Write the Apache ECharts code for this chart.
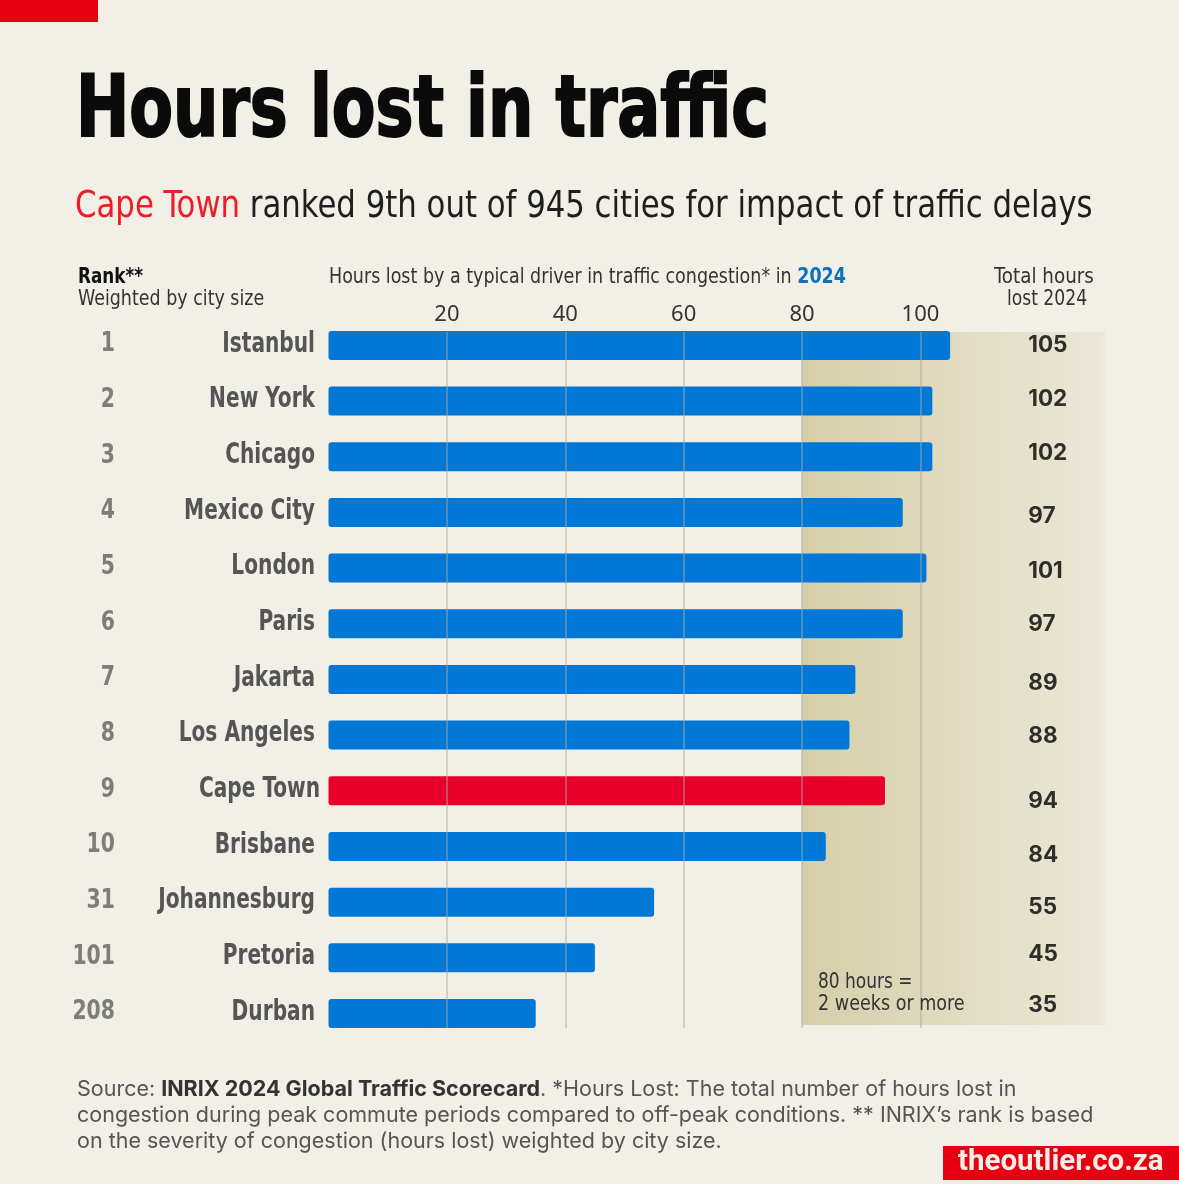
<!DOCTYPE html>
<html><head><meta charset="utf-8">
<style>html,body{margin:0;padding:0;background:#f1efe6}#c{width:1179px;height:1184px}</style>
<script src="https://cdn.jsdelivr.net/npm/echarts@6/dist/echarts.min.js"></script>
</head><body><div id="c"></div>
<script>
const cities=['Istanbul','New York','Chicago','Mexico City','London','Paris','Jakarta','Los Angeles','Cape Town','Brisbane','Johannesburg','Pretoria','Durban'];
const ranks=['1','2','3','4','5','6','7','8','9','10','31','101','208'];
const hours=[105,102,102,97,101,97,89,88,94,84,55,45,35];
const tickValues=[20,40,60,80,100];
const highlightCity='Cape Town';
const labelNudge=[0,-2,-4,4,3,0,4,1,10,9,5,-4,-8];

const cond='"DejaVu Sans Condensed",sans-serif';
const xMax=131.25, labelX=118.2;
const xBase={type:'value',min:0,max:xMax};
function condensedLabels(texts,dx,font,fill,sx,hiShift){
  return {type:'custom',xAxisIndex:0,yAxisIndex:0,silent:true,z:6,clip:false,
    data:texts.map((t,i)=>[0,i]),
    renderItem:(p,api)=>{
      const i=api.value(1), c=api.coord([0,i]);
      return {type:'text',x:c[0]+dx+(cities[i]===highlightCity?hiShift:0),y:c[1]-1,scaleX:sx,
        style:{text:texts[i],fill,font,align:'right',verticalAlign:'middle'}};
    }};
}
const chart=echarts.init(document.getElementById('c'),null,{renderer:'canvas'});
chart.setOption({
  animation:false,
  backgroundColor:'#f1efe6',
  grid:[
    {left:328.5,top:317.6,width:777,height:723.7},
    {left:328.5,top:332,width:777,height:696}
  ],
  xAxis:[
    Object.assign({},xBase,{gridIndex:0,show:false}),
    Object.assign({},xBase,{gridIndex:1,position:'top',
      axisLine:{show:false},axisTick:{show:false,customValues:tickValues},splitLine:{show:false},
      axisLabel:{customValues:tickValues,color:'#333',fontSize:22,fontFamily:'"Noto Sans",sans-serif',margin:6}})
  ],
  yAxis:[
    {type:'category',gridIndex:0,inverse:true,data:cities,
      axisLine:{show:false},axisTick:{show:false},axisLabel:{show:false}},
    {type:'value',gridIndex:1,min:0,max:1,show:false}
  ],
  series:[
    {type:'line',name:'band',xAxisIndex:1,yAxisIndex:1,data:[[80,0]],showSymbol:false,silent:true,z:1,
      lineStyle:{opacity:0},
      markArea:{silent:true,z:1,itemStyle:{color:{type:'linear',x:0,y:0,x2:1,y2:0,colorStops:[
          {offset:0,color:'#d5cfa9'},{offset:0.5,color:'#e0dbc0'},{offset:0.985,color:'#ebe7d6'},{offset:1,color:'#eeebdd'}]}},
        data:[[{coord:[80,0.0043]},{coord:[xMax,1]}]]}},
    {type:'bar',name:'Hours lost',xAxisIndex:0,yAxisIndex:0,barWidth:29,z:3,
      itemStyle:{color:'#0178d6',borderRadius:3},
      data:hours.map((v,i)=>cities[i]===highlightCity?{value:v,itemStyle:{color:'#e9002a'}}:v)},
    {type:'line',name:'gridlines',xAxisIndex:1,yAxisIndex:1,data:[[20,0]],showSymbol:false,silent:true,z:5,
      lineStyle:{opacity:0},
      markLine:{silent:true,symbol:'none',z:5,label:{show:false},animation:false,
        lineStyle:{color:'rgba(170,170,165,0.62)',width:1.5,type:'solid'},
        data:tickValues.map(v=>({xAxis:v}))}},
    {type:'scatter',name:'Total hours',xAxisIndex:0,yAxisIndex:0,symbolSize:0,z:6,silent:true,
      data:hours.map((v,i)=>({value:[labelX,cities[i]],
        label:{show:true,position:'right',distance:0,offset:[0,labelNudge[i]],
          formatter:String(v),color:'#000',fontWeight:700,fontSize:22.5,fontFamily:'Inter,sans-serif'}}))},
    condensedLabels(cities,-13.5,'bold 28px '+cond,'#555',0.8,5),
    condensedLabels(ranks,-213.5,'bold 27px '+cond,'#7d7d7a',0.84,0)
  ],
  graphic:[
    {type:'rect',shape:{x:0,y:0,width:98,height:22},style:{fill:'#e80012'},z:10},
    {type:'text',x:76,y:71,scaleX:0.833,z:10,style:{text:'Hours lost in traffic',fill:'#0b0b0b',stroke:'#0b0b0b',lineWidth:2,font:'bold 85px '+cond}},
    {type:'text',x:75,y:188,scaleX:0.90,z:10,style:{rich:{r:{fill:'#ee1c25',font:'38px '+cond},k:{fill:'#1e1e1e',font:'38px '+cond}},
      text:'{r|Cape Town}{k| ranked 9th out of 945 cities for impact of traffic delays}'}},
    {type:'text',x:78,y:267,scaleX:0.89,z:10,style:{text:'Rank**',fill:'#111',font:'bold 21px '+cond}},
    {type:'text',x:78,y:289,scaleX:0.925,z:10,style:{text:'Weighted by city size',fill:'#333',font:'21px '+cond}},
    {type:'text',x:329,y:267,scaleX:0.926,z:10,style:{rich:{a:{fill:'#333',font:'21px '+cond},b:{fill:'#0b72bd',font:'bold 21px '+cond}},
      text:'{a|Hours lost by a typical driver in traffic congestion* in }{b|2024}'}},
    {type:'text',x:1044,y:267,scaleX:0.97,z:10,style:{text:'Total hours',align:'center',fill:'#333',font:'21px '+cond}},
    {type:'text',x:1047,y:289,scaleX:0.91,z:10,style:{text:'lost 2024',align:'center',fill:'#333',font:'21px '+cond}},
    {type:'text',x:818,y:972,scaleX:0.9,z:10,style:{text:'80 hours =',fill:'#333',font:'21px '+cond}},
    {type:'text',x:818,y:994,scaleX:0.93,z:10,style:{text:'2 weeks or more',fill:'#333',font:'21px '+cond}},
    {type:'text',x:77,y:1079,z:10,style:{rich:{a:{fill:'#555',font:'21.5px Inter,sans-serif'},b:{fill:'#333',font:'bold 21.5px Inter,sans-serif'}},
      text:'{a|Source: }{b|INRIX 2024 Global Traffic Scorecard}{a|. *Hours Lost: The total number of hours lost in}'}},
    {type:'text',x:77,y:1105,z:10,style:{text:'congestion during peak commute periods compared to off-peak conditions. ** INRIX’s rank is based',fill:'#555',font:'21.5px Inter,sans-serif'}},
    {type:'text',x:77,y:1131,z:10,style:{text:'on the severity of congestion (hours lost) weighted by city size.',fill:'#555',font:'21.5px Inter,sans-serif'}},
    {type:'rect',shape:{x:943,y:1146,width:236,height:34},style:{fill:'#e60012'},z:10},
    {type:'text',x:958,y:1163,z:11,style:{text:'theoutlier.co.za',fill:'#f7efe6',verticalAlign:'middle',font:'bold 29.5px Roboto,sans-serif'}}
  ]
});
</script></body></html>
